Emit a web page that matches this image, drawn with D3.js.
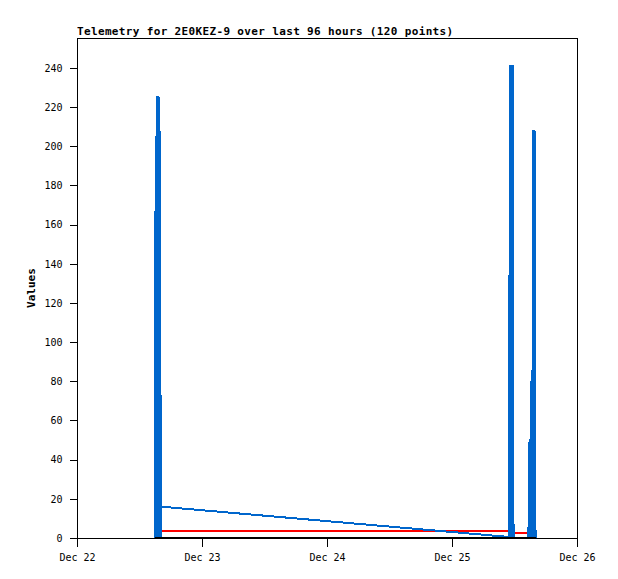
<!DOCTYPE html>
<html><head><meta charset="utf-8">
<script src="https://cdn.jsdelivr.net/npm/d3@7"></script>
<style>
html,body{margin:0;padding:0;background:#fff;}
svg{display:block;}
text{font-family:"DejaVu Sans Mono","Liberation Mono",monospace;}
</style></head>
<body>
<script>
// ---- data ----
const titleText = "Telemetry for 2E0KEZ-9 over last 96 hours (120 points)";
const yAxisTitle = "Values";
const xTickLabels = ["Dec 22", "Dec 23", "Dec 24", "Dec 25", "Dec 26"];
const xTickDates = ["2023-12-22 00:00", "2023-12-23 00:00", "2023-12-24 00:00", "2023-12-25 00:00", "2023-12-26 00:00"];
const yTicks = [0, 20, 40, 60, 80, 100, 120, 140, 160, 180, 200, 220, 240];

const blueTimes = [
  "2023-12-22 15:04", "2023-12-22 15:16", "2023-12-22 15:27", "2023-12-22 15:39",
  "2023-12-22 15:50", "2023-12-22 16:00", "2023-12-22 16:08",
  "2023-12-25 10:11", "2023-12-25 10:57", "2023-12-25 11:02", "2023-12-25 11:14",
  "2023-12-25 11:26", "2023-12-25 11:37", "2023-12-25 11:49",
  "2023-12-25 14:40", "2023-12-25 14:53", "2023-12-25 15:04", "2023-12-25 15:16",
  "2023-12-25 15:27", "2023-12-25 15:39", "2023-12-25 15:50", "2023-12-25 16:02"
];
const blueValues = [
  165, 205, 225, 225,
  208, 73, 16,
  0.7, 0, 128, 241,
  241, 241, 0,
  0, 49, 49, 80,
  80, 208, 208, 4
];

const redTimes = ["2023-12-22 16:08", "2023-12-25 10:11", "2023-12-25 11:37", "2023-12-25 11:49", "2023-12-25 16:02"];
const redValues = [3.7, 3.7, 3.7, 2.7, 2.7];

const blackTimes = ["2023-12-22 15:04", "2023-12-25 16:02"];
const blackValues = [0, 0];

// ---- layout ----
const W = 618, H = 579;
const plot = {left: 77, right: 577, top: 38, bottom: 538};
const parse = d3.timeParse("%Y-%m-%d %H:%M");

const x = d3.scaleTime()
  .domain([parse(xTickDates[0]), parse(xTickDates[xTickDates.length - 1])])
  .range([plot.left, plot.right]);
const y = d3.scaleLinear().domain([0, 255.3]).range([plot.bottom, plot.top]);

const svg = d3.select("body").append("svg").attr("width", W).attr("height", H);
svg.append("rect").attr("width", W).attr("height", H).attr("fill", "#fff");

// title
svg.append("text").attr("x", plot.left).attr("y", 35)
  .attr("font-size", 11).attr("font-weight", "bold").attr("letter-spacing", 0.35)
  .attr("fill", "#000").text(titleText);

// frame
svg.append("rect").attr("x", plot.left + 0.5).attr("y", plot.top + 0.5)
  .attr("width", plot.right - plot.left).attr("height", plot.bottom - plot.top)
  .attr("fill", "none").attr("stroke", "#000").attr("stroke-width", 1)
  .attr("shape-rendering", "crispEdges");

// y axis
const yAxis = d3.axisLeft(y).tickValues(yTicks).tickSize(8).tickPadding(7).tickFormat(d3.format("d"));
const gy = svg.append("g").attr("transform", `translate(${plot.left + 0.5},0)`).call(yAxis);
gy.select(".domain").remove();
gy.selectAll("line").attr("stroke", "#000").attr("shape-rendering", "crispEdges");
gy.selectAll("text").attr("font-size", 10).attr("fill", "#000")
  .attr("font-family", "DejaVu Sans Mono, monospace");

// x axis
const xAxis = d3.axisBottom(x).tickValues(xTickDates.map(parse)).tickSize(8).tickPadding(7)
  .tickFormat((d, i) => xTickLabels[i]);
const gx = svg.append("g").attr("transform", `translate(0,${plot.bottom + 0.5})`).call(xAxis);
gx.select(".domain").remove();
gx.selectAll("line").attr("stroke", "#000").attr("shape-rendering", "crispEdges");
gx.selectAll("text").attr("font-size", 10).attr("fill", "#000")
  .attr("font-family", "DejaVu Sans Mono, monospace");

// y axis title
svg.append("text")
  .attr("transform", `translate(35,${(plot.top + plot.bottom) / 2}) rotate(-90)`)
  .attr("text-anchor", "middle").attr("font-size", 11).attr("font-weight", "bold")
  .attr("fill", "#000").text(yAxisTitle);

// series
const toPts = (ts, vs) => ts.map((t, i) => ({t: parse(t), v: vs[i]}));
const line = d3.line().x(d => x(d.t)).y(d => y(d.v));

const g = svg.append("g").attr("shape-rendering", "crispEdges");

const red = toPts(redTimes, redValues);
g.append("path").datum(red).attr("d", line).attr("fill", "none")
  .attr("stroke", "#ff0000").attr("stroke-width", 2);

const blue = toPts(blueTimes, blueValues);
g.selectAll("line.imp").data(blue.filter(d => d.v > 0)).join("line").attr("class", "imp")
  .attr("x1", d => x(d.t)).attr("x2", d => x(d.t))
  .attr("y1", y(0)).attr("y2", d => y(d.v))
  .attr("stroke", "#0066cc").attr("stroke-width", 2.5);
g.append("path").datum(blue).attr("d", line).attr("fill", "none")
  .attr("stroke", "#0066cc").attr("stroke-width", 2);

const black = toPts(blackTimes, blackValues);
g.append("path").datum(black).attr("d", line).attr("fill", "none")
  .attr("stroke", "#000").attr("stroke-width", 2);
</script>
</body></html>
